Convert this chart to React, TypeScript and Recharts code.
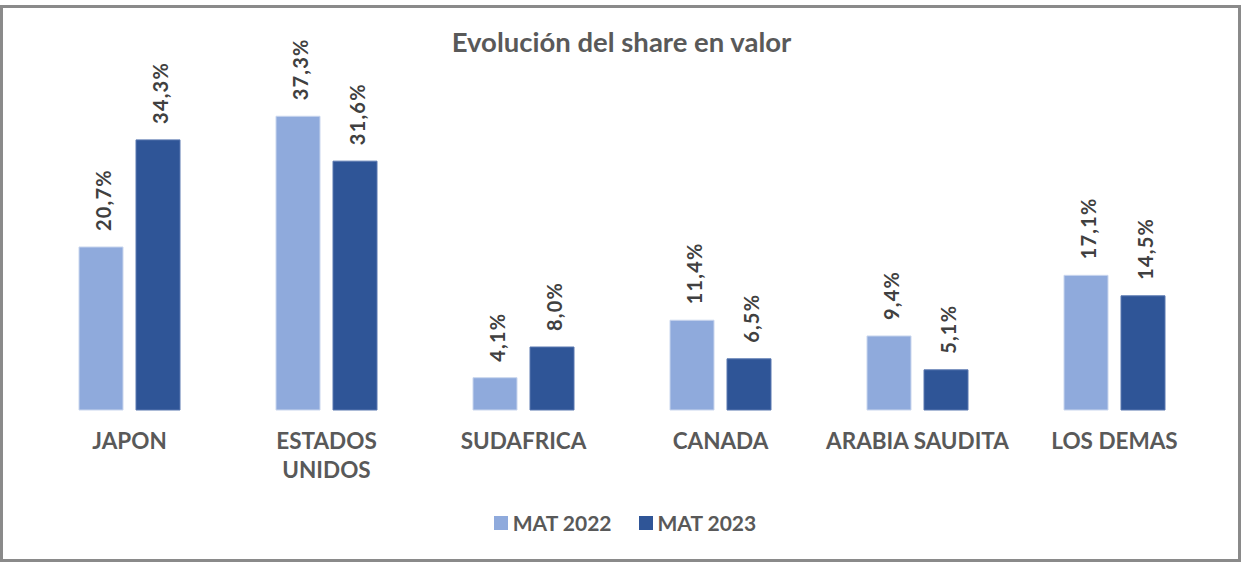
import React from "react";
import { BarChart, Bar, XAxis, YAxis, LabelList, Legend } from "recharts";

const categories = ["JAPON", "ESTADOS\nUNIDOS", "SUDAFRICA", "CANADA", "ARABIA SAUDITA", "LOS DEMAS"];
const mat2022 = [20.7, 37.3, 4.1, 11.4, 9.4, 17.1];
const mat2023 = [34.3, 31.6, 8.0, 6.5, 5.1, 14.5];
const seriesNames = ["MAT 2022", "MAT 2023"];
const colors = ["#8FAADC", "#2F5597"];

const data = categories.map((c, i) => ({ name: c, a: mat2022[i], b: mat2023[i] }));

const FONT = "Lato, 'Open Sans', sans-serif";

const fmt = (v: number) => v.toFixed(1).replace(".", ",") + "%";

const RotLabel = (props: any) => {
  const { x, y, width, value } = props;
  const cx = Number(x) + Number(width) / 2 + 2;
  const cy = Number(y) - 16;
  return (
    <text
      x={cx}
      y={cy}
      transform={`rotate(-90, ${cx}, ${cy})`}
      textAnchor="start"
      dominantBaseline="central"
      fill="#404040"
      fontFamily={FONT}
      fontWeight={700}
      fontSize={20}
      letterSpacing={1.2}
    >
      {fmt(Number(value))}
    </text>
  );
};

const Tick = (props: any) => {
  const { x, payload } = props;
  const lines = String(payload.value).split("\n");
  return (
    <text x={x} y={449} textAnchor="middle" fill="#595959" fontFamily={FONT} fontWeight={700} fontSize={22.5}>
      {lines.map((l, i) => (
        <tspan key={i} x={x} dy={i === 0 ? 0 : 29}>
          {l}
        </tspan>
      ))}
    </text>
  );
};

const LegendContent = () => (
  <div style={{ display: "flex", justifyContent: "center", alignItems: "center", fontFamily: FONT, fontSize: 21, fontWeight: 700, color: "#595959", paddingLeft: 8 }}>
    {seriesNames.map((n, i) => (
      <div key={n} style={{ display: "flex", alignItems: "center", marginRight: i === 0 ? 27 : 0 }}>
        <span style={{ display: "inline-block", width: 14, height: 14, background: colors[i], marginRight: 5 }} />
        <span>{n}</span>
      </div>
    ))}
  </div>
);

export default function App() {
  return (
    <div style={{ position: "absolute", left: 0, top: 0, width: 1242, height: 563, background: "#fff" }}>
      <div style={{ position: "absolute", left: 0, top: 5, width: 1241, height: 557, boxSizing: "border-box", border: "3px solid #8a8a8a" }} />
      <div style={{ position: "absolute", left: 0, top: 0 }}>
        <BarChart width={1242} height={563} data={data} margin={{ top: 95, right: 29, left: 31, bottom: 0 }} barCategoryGap={48} barGap={13}>
          <text x={621.5} y={52} textAnchor="middle" fill="#595959" fontFamily={FONT} fontWeight={700} fontSize={27.5}>
            Evolución del share en valor
          </text>
          <XAxis dataKey="name" height={153} axisLine={false} tickLine={false} tick={<Tick />} interval={0} />
          <YAxis hide domain={[0, 40]} />
          <Legend verticalAlign="middle" layout="horizontal" content={<LegendContent />} wrapperStyle={{ position: "absolute", top: 510, left: 0, width: 1242 }} />
          <Bar dataKey="a" name={seriesNames[0]} fill={colors[0]} stroke="#c9d6ee" strokeWidth={1} isAnimationActive={false}>
            <LabelList dataKey="a" content={<RotLabel />} />
          </Bar>
          <Bar dataKey="b" name={seriesNames[1]} fill={colors[1]} stroke="#5a78b0" strokeWidth={1} isAnimationActive={false}>
            <LabelList dataKey="b" content={<RotLabel />} />
          </Bar>
        </BarChart>
      </div>
    </div>
  );
}
